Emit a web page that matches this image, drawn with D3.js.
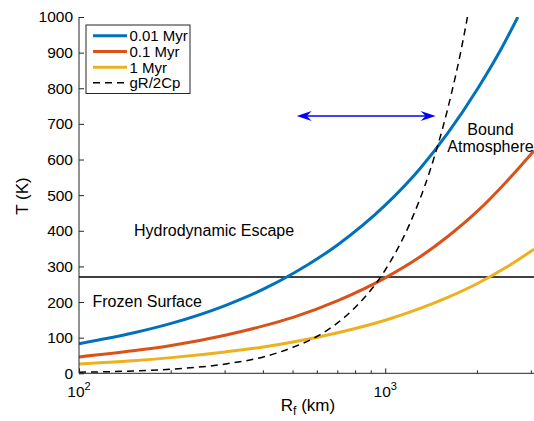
<!DOCTYPE html>
<html>
<head>
<meta charset="utf-8">
<script src="https://d3js.org/d3.v7.min.js"></script>
<style>
  body { margin: 0; background: #fff; }
  svg { display: block; font-family: "Liberation Sans", Arial, Helvetica, sans-serif; }
</style>
</head>
<body>
<svg id="chart"></svg>
<script>
// values
const rBlue = [100, 150, 200, 300, 400, 500, 700, 1000, 1300, 1600, 2000, 2400, 2710];
const tBlue = [83, 113, 140, 190, 236, 280, 361, 472, 575, 674, 798, 913, 1000];
const rRest = [100, 150, 200, 300, 400, 500, 700, 1000, 1300, 1600, 2000, 2500, 3060];
const tRed = [46, 63, 78, 107, 133, 157, 204, 268, 327, 384, 455, 540, 625];
const tYellow = [26, 35, 44, 60, 74, 88, 114, 149, 182, 213, 252, 299, 348];
const rDash = [100, 150, 200, 300, 400, 500, 600, 700, 800, 1000, 1200, 1400, 1600, 1800, 1855];
const tDash = [3, 6.5, 11.6, 26, 46, 73, 104, 142, 186, 290, 418, 569, 743, 940, 1000];
const freezeT = 270;
const arrowR = [514, 1460];
const arrowT = 722;
const legendLabels = ['0.01 Myr', '0.1 Myr', '1 Myr', 'gR/2Cp'];
const yTicks = [0, 100, 200, 300, 400, 500, 600, 700, 800, 900, 1000];
const xMajor = [100, 1000];
const xMinor = [200, 300, 400, 500, 600, 700, 800, 900, 2000, 3000];

const width = 534;
const height = 421;
const svg = d3.select('#chart')
  .attr('width', width)
  .attr('height', height);

const x = d3.scaleLog().domain([100, 3060]).range([79, 534]);
const y = d3.scaleLinear().domain([0, 1000]).range([373.3, 17]);
const axisColor = '#262626';

svg.append('clipPath').attr('id', 'plot')
  .append('rect')
  .attr('x', x.range()[0]).attr('y', y.range()[1])
  .attr('width', x.range()[1] - x.range()[0])
  .attr('height', y.range()[0] - y.range()[1]);

const plot = svg.append('g').attr('clip-path', 'url(#plot)');

const line = d3.line()
  .x(d => x(d[0]))
  .y(d => y(d[1]))
  .curve(d3.curveMonotoneX);

const series = [
  { r: rBlue, t: tBlue, color: '#0072BD', w: 3, dash: null },
  { r: rRest, t: tRed, color: '#D95319', w: 3, dash: null },
  { r: rRest, t: tYellow, color: '#EDB120', w: 3, dash: null },
  { r: rDash, t: tDash, color: '#000', w: 1.5, dash: '7,5' }
];

// freezing line
plot.append('line')
  .attr('x1', x.range()[0]).attr('x2', x.range()[1])
  .attr('y1', y(freezeT)).attr('y2', y(freezeT))
  .attr('stroke', '#000').attr('stroke-width', 1.5);

series.forEach(s => {
  plot.append('path')
    .datum(s.r.map((r, i) => [r, s.t[i]]))
    .attr('d', line)
    .attr('fill', 'none')
    .attr('stroke', s.color)
    .attr('stroke-width', s.w)
    .attr('stroke-dasharray', s.dash);
});

// axes
const xAxis = svg.append('g').attr('transform', `translate(0,${y(0)})`);
xAxis.call(d3.axisBottom(x).tickValues(xMajor).tickSize(-5).tickFormat(''));
xAxis.selectAll('.tick line').attr('stroke', axisColor);
xAxis.select('.domain').attr('stroke', axisColor).attr('d', `M${x.range()[0]},0H${x.range()[1]}`);
xAxis.selectAll('.minor').data(xMinor).enter().append('line')
  .attr('x1', d => x(d)).attr('x2', d => x(d))
  .attr('y1', 0).attr('y2', -3)
  .attr('stroke', axisColor);
xAxis.selectAll('.lab').data(xMajor).enter().append('text')
  .attr('x', d => x(d))
  .attr('y', 24)
  .attr('text-anchor', 'middle')
  .attr('font-size', 15.5)
  .attr('fill', '#000')
  .each(function (d) {
    const t = d3.select(this);
    t.append('tspan').text('10');
    t.append('tspan').attr('font-size', 11).attr('dy', -7).text(Math.round(Math.log10(d)));
  });

const yAxis = svg.append('g').attr('transform', `translate(${x.range()[0]},0)`);
yAxis.call(d3.axisLeft(y).tickValues(yTicks).tickSize(-5).tickPadding(6).tickFormat(d3.format('d')));
yAxis.selectAll('.tick line').attr('stroke', axisColor);
yAxis.select('.domain').attr('stroke', axisColor).attr('d', `M0,${y.range()[0]}V${y.range()[1]}`);
yAxis.selectAll('.tick text')
  .attr('font-size', 15.5)
  .attr('font-family', '"Liberation Sans", Arial, sans-serif')
  .attr('fill', '#000');

// axis titles
svg.append('text')
  .attr('transform', `translate(28,196) rotate(-90)`)
  .attr('text-anchor', 'middle')
  .attr('font-size', 17)
  .text('T (K)');

const xt = svg.append('text')
  .attr('x', 308).attr('y', 411)
  .attr('text-anchor', 'middle')
  .attr('font-size', 17);
xt.append('tspan').text('R');
xt.append('tspan').attr('font-size', 12).attr('dy', 4).text('f');
xt.append('tspan').attr('dy', -4).text(' (km)');

// region labels
const notes = [
  { text: 'Hydrodynamic Escape', x: 134, y: 236, anchor: 'start' },
  { text: 'Frozen Surface', x: 92.5, y: 307, anchor: 'start' },
  { text: 'Bound', x: 490.5, y: 134.5, anchor: 'middle' },
  { text: 'Atmosphere', x: 490.5, y: 151.5, anchor: 'middle' }
];
svg.selectAll('.note').data(notes).enter().append('text')
  .attr('x', d => d.x).attr('y', d => d.y)
  .attr('text-anchor', d => d.anchor)
  .attr('font-size', 16)
  .text(d => d.text);

// double arrow
const ax0 = x(arrowR[0]), ax1 = x(arrowR[1]), ay = y(arrowT);
svg.append('line')
  .attr('x1', ax0 + 8).attr('x2', ax1 - 8)
  .attr('y1', ay).attr('y2', ay)
  .attr('stroke', '#0000ff').attr('stroke-width', 1.5);
const head = (tip, dir) => `M${tip},${ay}L${tip + dir * 15},${ay - 5}L${tip + dir * 10},${ay}L${tip + dir * 15},${ay + 5}Z`;
svg.append('path').attr('d', head(ax0, 1)).attr('fill', '#0000ff');
svg.append('path').attr('d', head(ax1, -1)).attr('fill', '#0000ff');

// legend
const lg = svg.append('g');
lg.append('rect')
  .attr('x', 86).attr('y', 25)
  .attr('width', 104).attr('height', 68.5)
  .attr('fill', '#fff')
  .attr('stroke', axisColor).attr('stroke-width', 1);
const rowY = [35.7, 51.5, 67.2, 82.7];
legendLabels.forEach((lab, i) => {
  const s = series[i];
  lg.append('line')
    .attr('x1', 93).attr('x2', 127)
    .attr('y1', rowY[i]).attr('y2', rowY[i])
    .attr('stroke', s.color)
    .attr('stroke-width', s.w)
    .attr('stroke-dasharray', s.dash);
  lg.append('text')
    .attr('x', 129.5).attr('y', rowY[i] + 5.3)
    .attr('font-size', 15)
    .text(lab);
});
</script>
</body>
</html>
